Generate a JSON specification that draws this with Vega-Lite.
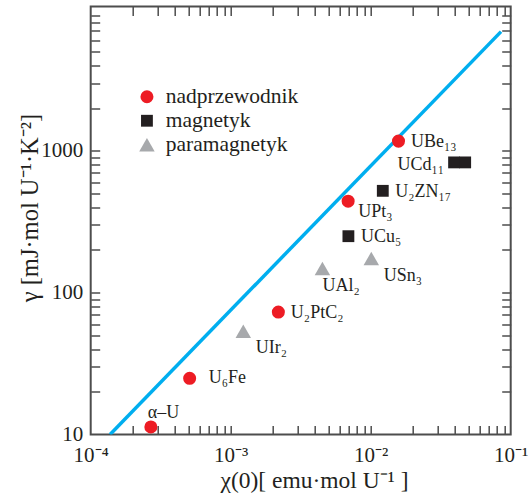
{
  "$schema": "https://vega.github.io/schema/vega-lite/v6.json",
  "width": 420,
  "height": 428,
  "autosize": {"type": "none"},
  "padding": {"left": 90.7, "top": 6.5, "right": 19.3, "bottom": 63.5},
  "background": "white",
  "config": {
    "font": "Liberation Serif",
    "view": {"stroke": "#4d4d4d", "strokeWidth": 2},
    "axis": {
      "domain": false,
      "ticks": false,
      "grid": true,
      "gridColor": "#4d4d4d",
      "gridWidth": 1.5,
      "gridOpacity": 1,
      "labelFont": "Liberation Serif",
      "labelFontSize": 21,
      "labelColor": "#231F20",
      "titleFont": "Liberation Serif",
      "titleFontSize": 23.5,
      "titleFontWeight": "normal",
      "titleColor": "#231F20",
      "labelOverlap": false,
      "labelFlush": false
    }
  },
  "datasets": {
    "compounds": [
      {"name": "α–U", "type": "nadprzewodnik", "chi": 0.000269, "gamma": 11.3},
      {"name": "U₆Fe", "type": "nadprzewodnik", "chi": 0.000509, "gamma": 24.9},
      {"name": "U₂PtC₂", "type": "nadprzewodnik", "chi": 0.00219, "gamma": 73},
      {"name": "UPt₃", "type": "nadprzewodnik", "chi": 0.0069, "gamma": 441},
      {"name": "UBe₁₃", "type": "nadprzewodnik", "chi": 0.0158, "gamma": 1170},
      {"name": "UCu₅", "type": "magnetyk", "chi": 0.00693, "gamma": 250},
      {"name": "U₂ZN₁₇", "type": "magnetyk", "chi": 0.0122, "gamma": 522},
      {"name": "UCd₁₁", "type": "magnetyk", "chi": 0.0394, "gamma": 828},
      {"name": "UCd₁₁", "type": "magnetyk", "chi": 0.0473, "gamma": 828},
      {"name": "UIr₂", "type": "paramagnetyk", "chi": 0.00123, "gamma": 53.4},
      {"name": "UAl₂", "type": "paramagnetyk", "chi": 0.00452, "gamma": 148},
      {"name": "USn₃", "type": "paramagnetyk", "chi": 0.0101, "gamma": 174}
    ],
    "fit": [
      {"chi": 0.0001375, "gamma": 10},
      {"chi": 0.0853, "gamma": 6920}
    ]
  },
  "resolve": {"axis": {"x": "independent", "y": "independent"}},
  "layer": [
    {
      "data": {"name": "fit"},
      "mark": {"type": "line", "color": "#00AEEF", "strokeWidth": 3.5, "clip": true},
      "encoding": {
        "x": {
          "field": "chi", "type": "quantitative",
          "scale": {"type": "log", "domain": [0.0001, 0.1]},
          "axis": {"orient": "bottom", "labels": false, "title": null, "gridDash": [9, 410, 9],
            "values": [0.0002,0.0003,0.0004,0.0005,0.0006,0.0007,0.0008,0.0009,0.001,0.002,0.003,0.004,0.005,0.006,0.007,0.008,0.009,0.01,0.02,0.03,0.04,0.05,0.06,0.07,0.08,0.09]}
        },
        "y": {
          "field": "gamma", "type": "quantitative",
          "scale": {"type": "log", "domain": [10, 10400]},
          "axis": {"orient": "left", "labels": false, "title": null, "gridDash": [9, 402, 9],
            "values": [20,30,40,50,60,70,80,90,100,200,300,400,500,600,700,800,900,1000,2000,3000,4000,5000,6000,7000,8000,9000]}
        }
      }
    },
    {
      "data": {"name": "compounds"},
      "mark": {"type": "point", "filled": true, "opacity": 1, "strokeWidth": 0},
      "encoding": {
        "x": {
          "field": "chi", "type": "quantitative",
          "scale": {"type": "log", "domain": [0.0001, 0.1]},
          "axis": {
            "orient": "bottom",
            "title": "χ(0)[ emu·mol U⁻¹ ]",
            "titleX": 223.3, "titleY": 53, "titleBaseline": "alphabetic", "titleAlign": "center",
            "labelPadding": 10,
            "values": [0.0001, 0.001, 0.01, 0.1],
            "labelExpr": "round(log(datum.value)/LN10) == -4 ? '10⁻⁴' : round(log(datum.value)/LN10) == -3 ? '10⁻³' : round(log(datum.value)/LN10) == -2 ? '10⁻²' : '10⁻¹'"
          }
        },
        "y": {
          "field": "gamma", "type": "quantitative",
          "scale": {"type": "log", "domain": [10, 10400]},
          "axis": {
            "orient": "left",
            "title": "γ [mJ·mol U⁻¹·K⁻²]",
            "titleFontSize": 24.5,
            "titleX": -53, "titleY": 201, "titleBaseline": "alphabetic", "titleAlign": "center", "titleAngle": -90,
            "labelPadding": 8,
            "values": [10, 100, 1000],
            "labelExpr": "format(datum.value, 'd')"
          }
        },
        "color": {
          "field": "type", "type": "nominal",
          "scale": {"domain": ["nadprzewodnik", "magnetyk", "paramagnetyk"], "range": ["#ED1C24", "#231F20", "#A7A9AC"]},
          "legend": {"orient": "none", "legendX": 45.5, "legendY": 79.5, "title": null, "labelFont": "Liberation Serif", "labelFontSize": 21.5, "labelColor": "#231F20", "labelOffset": 8, "rowPadding": 1, "symbolStrokeWidth": 0, "symbolOpacity": 1, "padding": 0}
        },
        "shape": {
          "field": "type", "type": "nominal",
          "scale": {"domain": ["nadprzewodnik", "magnetyk", "paramagnetyk"], "range": ["circle", "square", "triangle-up"]}
        },
        "size": {
          "field": "type", "type": "nominal",
          "scale": {"type": "ordinal", "domain": ["nadprzewodnik", "magnetyk", "paramagnetyk"], "range": [170, 140, 240]}
        }
      }
    },
    {
      "data": {"name": "compounds"},
      "transform": [{"filter": {"field": "name", "oneOf": ["UBe₁₃", "U₂ZN₁₇", "U₂PtC₂", "UCu₅"]}}],
      "mark": {"type": "text", "align": "left", "baseline": "middle", "dx": 12.5, "dy": 1, "fontSize": 18, "color": "#231F20"},
      "encoding": {
        "x": {"field": "chi", "type": "quantitative", "scale": {"type": "log", "domain": [0.0001, 0.1]}, "axis": null},
        "y": {"field": "gamma", "type": "quantitative", "scale": {"type": "log", "domain": [10, 10400]}, "axis": null},
        "text": {"field": "name"}
      }
    },
    {
      "data": {"name": "compounds"},
      "transform": [{"filter": {"field": "name", "equal": "U₆Fe"}}],
      "mark": {"type": "text", "align": "left", "baseline": "middle", "dx": 19, "dy": 0, "fontSize": 18, "color": "#231F20"},
      "encoding": {
        "x": {"field": "chi", "type": "quantitative", "scale": {"type": "log", "domain": [0.0001, 0.1]}, "axis": null},
        "y": {"field": "gamma", "type": "quantitative", "scale": {"type": "log", "domain": [10, 10400]}, "axis": null},
        "text": {"field": "name"}
      }
    },
    {
      "data": {"name": "compounds"},
      "transform": [{"filter": {"field": "name", "oneOf": ["USn₃", "UIr₂"]}}],
      "mark": {"type": "text", "align": "left", "baseline": "middle", "dx": 12.5, "dy": 17, "fontSize": 18, "color": "#231F20"},
      "encoding": {
        "x": {"field": "chi", "type": "quantitative", "scale": {"type": "log", "domain": [0.0001, 0.1]}, "axis": null},
        "y": {"field": "gamma", "type": "quantitative", "scale": {"type": "log", "domain": [10, 10400]}, "axis": null},
        "text": {"field": "name"}
      }
    },
    {
      "data": {"name": "compounds"},
      "transform": [{"filter": {"field": "name", "equal": "UPt₃"}}],
      "mark": {"type": "text", "align": "left", "baseline": "middle", "dx": 10, "dy": 11, "fontSize": 18, "color": "#231F20"},
      "encoding": {
        "x": {"field": "chi", "type": "quantitative", "scale": {"type": "log", "domain": [0.0001, 0.1]}, "axis": null},
        "y": {"field": "gamma", "type": "quantitative", "scale": {"type": "log", "domain": [10, 10400]}, "axis": null},
        "text": {"field": "name"}
      }
    },
    {
      "data": {"name": "compounds"},
      "transform": [{"filter": {"field": "name", "equal": "UAl₂"}}],
      "mark": {"type": "text", "align": "left", "baseline": "middle", "dx": 0, "dy": 18, "fontSize": 18, "color": "#231F20"},
      "encoding": {
        "x": {"field": "chi", "type": "quantitative", "scale": {"type": "log", "domain": [0.0001, 0.1]}, "axis": null},
        "y": {"field": "gamma", "type": "quantitative", "scale": {"type": "log", "domain": [10, 10400]}, "axis": null},
        "text": {"field": "name"}
      }
    },
    {
      "data": {"name": "compounds"},
      "transform": [{"filter": "datum.name == 'UCd₁₁' && datum.chi < 0.043"}],
      "mark": {"type": "text", "align": "right", "baseline": "middle", "dx": -10, "dy": 3, "fontSize": 18, "color": "#231F20"},
      "encoding": {
        "x": {"field": "chi", "type": "quantitative", "scale": {"type": "log", "domain": [0.0001, 0.1]}, "axis": null},
        "y": {"field": "gamma", "type": "quantitative", "scale": {"type": "log", "domain": [10, 10400]}, "axis": null},
        "text": {"field": "name"}
      }
    },
    {
      "data": {"name": "compounds"},
      "transform": [{"filter": {"field": "name", "equal": "α–U"}}],
      "mark": {"type": "text", "align": "left", "baseline": "middle", "dx": -3, "dy": -14, "fontSize": 18, "color": "#231F20"},
      "encoding": {
        "x": {"field": "chi", "type": "quantitative", "scale": {"type": "log", "domain": [0.0001, 0.1]}, "axis": null},
        "y": {"field": "gamma", "type": "quantitative", "scale": {"type": "log", "domain": [10, 10400]}, "axis": null},
        "text": {"field": "name"}
      }
    }
  ]
}
